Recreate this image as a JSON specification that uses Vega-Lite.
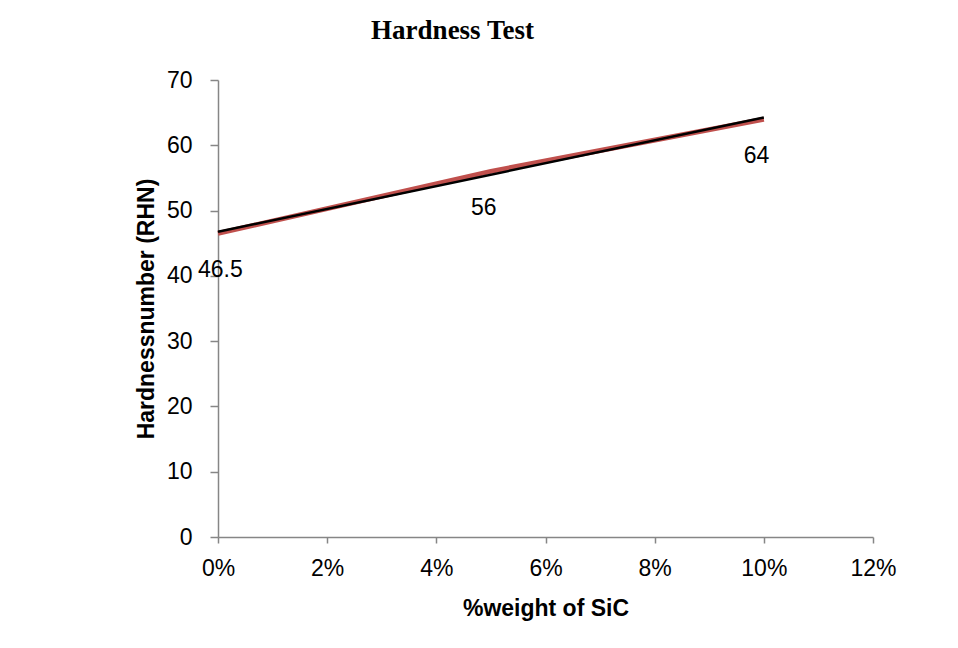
{
  "$schema": "https://vega.github.io/schema/vega-lite/v6.json",
  "width": 655,
  "height": 457,
  "autosize": {"type": "none"},
  "padding": {"left": 218, "top": 80, "right": 85, "bottom": 111},
  "background": "white",
  "title": {
    "text": "Hardness Test",
    "font": "Liberation Serif",
    "fontSize": 27,
    "fontWeight": "bold",
    "color": "black",
    "anchor": "middle",
    "dx": -93,
    "offset": 24
  },
  "config": {
    "view": {"stroke": null},
    "font": "Liberation Sans",
    "axis": {
      "grid": false,
      "domainColor": "#868686",
      "domainWidth": 1.5,
      "tickColor": "#868686",
      "tickWidth": 1.5,
      "labelFont": "Liberation Sans",
      "labelFontSize": 23,
      "labelColor": "black",
      "titleFont": "Liberation Sans",
      "titleFontSize": 23,
      "titleFontWeight": "bold",
      "titleColor": "black"
    }
  },
  "data": {
    "values": [
      {"SiC": 0.0, "Hardness": 46.5},
      {"SiC": 0.05, "Hardness": 56},
      {"SiC": 0.10, "Hardness": 64}
    ]
  },
  "layer": [
    {
      "mark": {"type": "line", "color": "#C0504D", "strokeWidth": 5},
      "encoding": {
        "x": {
          "field": "SiC",
          "type": "quantitative",
          "scale": {"domain": [0, 0.12], "nice": false},
          "axis": {
            "title": "%weight of SiC",
            "format": ".0%",
            "values": [0, 0.02, 0.04, 0.06, 0.08, 0.1, 0.12],
            "tickSize": 6,
            "labelPadding": 14,
            "titlePadding": 17,
            "labelFlush": false,
            "labelOverlap": false
          }
        },
        "y": {
          "field": "Hardness",
          "type": "quantitative",
          "scale": {"domain": [0, 70], "nice": false, "zero": true},
          "axis": {
            "title": "Hardnessnumber (RHN)",
            "values": [0, 10, 20, 30, 40, 50, 60, 70],
            "tickSize": 8,
            "labelPadding": 18,
            "titlePadding": 8,
            "labelFlush": false,
            "labelOverlap": false
          }
        }
      }
    },
    {
      "transform": [
        {"regression": "Hardness", "on": "SiC", "extent": [0, 0.1]}
      ],
      "mark": {"type": "line", "color": "black", "strokeWidth": 2.5},
      "encoding": {
        "x": {"field": "SiC", "type": "quantitative"},
        "y": {"field": "Hardness", "type": "quantitative"}
      }
    },
    {
      "mark": {
        "type": "text",
        "font": "Liberation Sans",
        "fontSize": 23,
        "color": "black",
        "dx": -20,
        "dy": 37,
        "align": "left",
        "baseline": "middle"
      },
      "encoding": {
        "x": {"field": "SiC", "type": "quantitative"},
        "y": {"field": "Hardness", "type": "quantitative"},
        "text": {"field": "Hardness", "type": "quantitative"}
      }
    }
  ]
}
